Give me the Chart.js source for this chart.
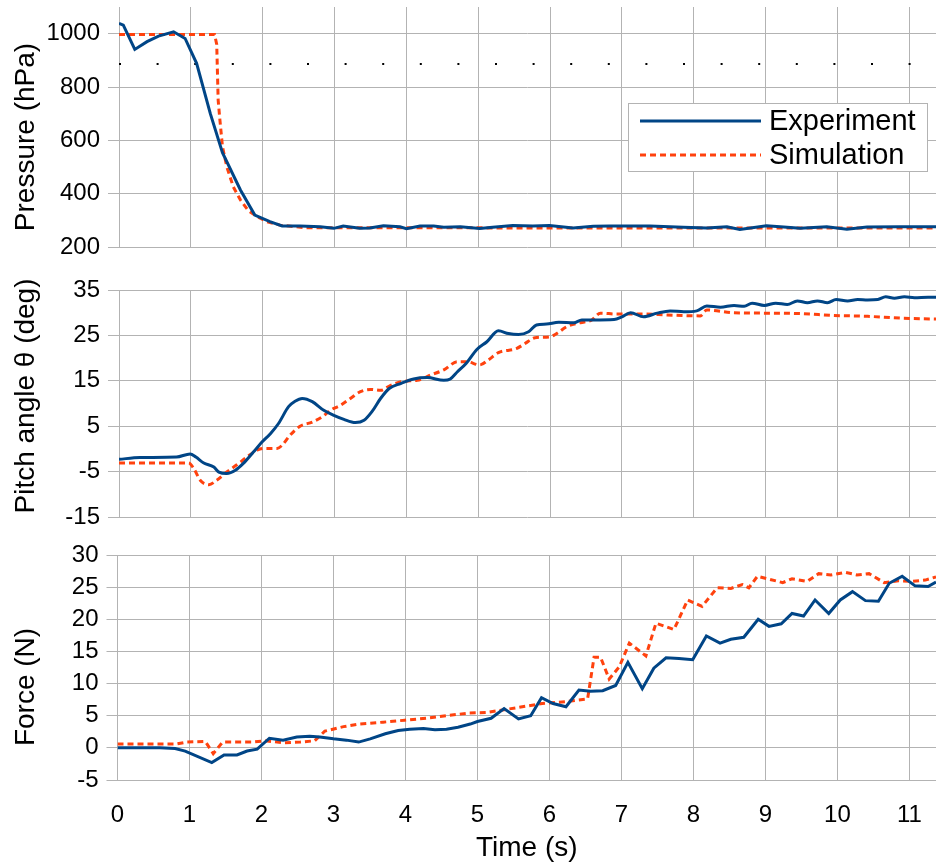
<!DOCTYPE html>
<html>
<head>
<meta charset="utf-8">
<script src="https://cdn.jsdelivr.net/npm/chart.js@4.4.1/dist/chart.umd.min.js"></script>
<style>
  body { margin: 0; background: #fff; }
  #wrap { position: relative; width: 936px; height: 866px; }
  canvas { position: absolute; left: 0; }
</style>
</head>
<body>
<div id="wrap">
  <canvas id="cPressure" width="936" height="262" style="top:0px"></canvas>
  <canvas id="cPitch" width="936" height="278" style="top:262px"></canvas>
  <canvas id="cForce" width="936" height="326" style="top:540px"></canvas>
</div>
<script>
// pressure (hPa)
const pressExpT = [0, 0.06, 0.22, 0.39, 0.55, 0.76, 0.92, 1.08, 1.27, 1.44, 1.69, 1.89, 2.10, 2.27, 2.52, 2.80, 2.99, 3.12, 3.35, 3.49, 3.68, 3.91, 4.00, 4.19, 4.38, 4.52, 4.75, 5.02, 5.20, 5.48, 5.76, 5.99, 6.32, 6.60, 6.83, 7.39, 7.85, 8.18, 8.46, 8.64, 9.01, 9.25, 9.48, 9.85, 10.13, 10.41, 10.87, 11.38];
const pressExpV = [1039, 1032, 941, 970, 991, 1007, 982, 889, 701, 554, 414, 320, 295, 279, 279, 276, 270, 279, 270, 271, 280, 276, 269, 279, 279, 274, 276, 269, 274, 281, 279, 281, 271, 278, 279, 279, 274, 271, 276, 266, 280, 275, 270, 276, 267, 275, 276, 276];
const pressSimT = [0, 1.33, 1.36, 1.38, 1.40, 1.44, 1.50, 1.59, 1.69, 1.80, 1.92, 2.06, 2.24, 2.60, 11.38];
const pressSimV = [997, 997, 960, 751, 689, 576, 501, 426, 376, 336, 314, 295, 282, 272, 271];
const pressRefT = [0, 11.04];
const pressRefV = [886, 886];

// pitch angle (deg)
const pitchExpT = [0, 0.29, 0.8, 0.99, 1.07, 1.18, 1.32, 1.39, 1.50, 1.62, 1.73, 1.87, 1.99, 2.11, 2.22, 2.36, 2.45, 2.55, 2.69, 2.85, 2.99, 3.13, 3.29, 3.41, 3.52, 3.64, 3.76, 3.92, 4.10, 4.29, 4.52, 4.61, 4.71, 4.83, 4.98, 5.12, 5.28, 5.42, 5.56, 5.70, 5.81, 5.95, 6.12, 6.33, 6.44, 6.6, 6.89, 7.0, 7.12, 7.30, 7.49, 7.67, 7.86, 8.04, 8.18, 8.37, 8.56, 8.70, 8.81, 8.98, 9.14, 9.30, 9.44, 9.58, 9.72, 9.86, 9.98, 10.14, 10.28, 10.42, 10.56, 10.67, 10.79, 10.93, 11.07, 11.26, 11.38];
const pitchExpV = [-2.3, -1.9, -1.8, -1.1, -1.8, -3.1, -4.0, -5.1, -5.4, -4.7, -3.2, -0.7, 1.5, 3.4, 5.6, 9.3, 10.5, 11.1, 10.4, 8.5, 7.4, 6.5, 5.8, 6.3, 8.2, 11.1, 13.3, 14.4, 15.4, 15.7, 15.1, 15.4, 17.0, 18.8, 21.9, 23.6, 26.0, 25.4, 25.2, 25.8, 27.3, 27.5, 27.9, 27.8, 28.4, 28.4, 28.5, 29.1, 30.0, 29.1, 29.9, 30.4, 30.2, 30.4, 31.5, 31.2, 31.6, 31.4, 32.1, 31.6, 32.1, 31.8, 32.6, 32.2, 32.6, 32.2, 32.9, 32.6, 32.9, 32.8, 32.9, 33.5, 33.2, 33.5, 33.3, 33.4, 33.4];
const pitchSimT = [0, 0.97, 1.04, 1.13, 1.25, 1.36, 1.50, 1.64, 1.78, 1.92, 2.01, 2.20, 2.27, 2.38, 2.52, 2.69, 2.83, 2.94, 3.08, 3.22, 3.36, 3.50, 3.64, 3.78, 3.97, 4.15, 4.34, 4.52, 4.71, 4.84, 5.02, 5.14, 5.28, 5.53, 5.65, 5.79, 6.0, 6.09, 6.23, 6.42, 6.58, 6.70, 6.93, 7.30, 7.63, 8.09, 8.18, 8.56, 9.02, 9.49, 9.95, 10.42, 10.88, 11.38];
const pitchSimV = [-3.1, -3.1, -4.3, -6.9, -7.9, -6.9, -5.1, -3.5, -1.8, -0.3, 0.1, 0.1, 0.8, 3.0, 5.0, 5.9, 7.1, 8.5, 9.6, 11.1, 12.6, 13.1, 12.9, 14.0, 14.9, 15.1, 16.3, 17.4, 19.2, 19.2, 18.5, 19.6, 21.2, 22.1, 23.2, 24.5, 24.7, 25.4, 26.9, 27.8, 28.4, 29.9, 29.7, 29.7, 29.5, 29.3, 30.6, 30.0, 29.9, 29.8, 29.4, 29.2, 28.8, 28.6];

// force (N)
const forceExpT = [0, 0.59, 0.80, 0.94, 1.31, 1.48, 1.66, 1.80, 1.94, 2.11, 2.30, 2.49, 2.67, 2.81, 3.0, 3.18, 3.35, 3.51, 3.72, 3.90, 4.06, 4.25, 4.41, 4.57, 4.73, 4.90, 5.0, 5.19, 5.37, 5.57, 5.74, 5.89, 6.05, 6.23, 6.41, 6.57, 6.74, 6.92, 7.09, 7.29, 7.45, 7.62, 7.80, 7.99, 8.18, 8.37, 8.52, 8.70, 8.90, 9.05, 9.22, 9.37, 9.53, 9.69, 9.88, 10.04, 10.21, 10.39, 10.57, 10.72, 10.90, 11.08, 11.26, 11.37];
const forceExpV = [0, 0, -0.1, -0.5, -2.3, -1.1, -1.1, -0.5, -0.2, 1.5, 1.2, 1.7, 1.8, 1.7, 1.4, 1.2, 0.9, 1.4, 2.2, 2.7, 2.9, 3.0, 2.8, 2.9, 3.2, 3.7, 4.1, 4.6, 6.1, 4.5, 5.0, 7.8, 6.9, 6.4, 9.0, 8.8, 8.9, 9.7, 13.3, 9.2, 12.4, 14.0, 13.9, 13.7, 17.4, 16.3, 16.9, 17.2, 20.0, 18.9, 19.3, 20.9, 20.5, 23.0, 20.9, 23.0, 24.3, 22.9, 22.8, 25.6, 26.7, 25.2, 25.1, 25.8];
const forceSimT = [0, 0.82, 0.96, 1.22, 1.33, 1.46, 1.61, 1.88, 2.05, 2.30, 2.54, 2.74, 2.88, 3.14, 3.35, 3.69, 3.99, 4.29, 4.57, 4.87, 5.12, 5.35, 5.58, 5.90, 6.23, 6.53, 6.62, 6.71, 6.83, 6.97, 7.11, 7.34, 7.48, 7.73, 7.92, 8.12, 8.33, 8.52, 8.68, 8.77, 8.89, 9.03, 9.24, 9.37, 9.58, 9.74, 9.91, 10.11, 10.27, 10.44, 10.65, 10.85, 11.04, 11.22, 11.37];
const forceSimV = [0.6, 0.6, 0.9, 1.0, -0.9, 0.9, 0.9, 0.9, 1.1, 0.8, 0.9, 1.1, 2.6, 3.3, 3.7, 4.0, 4.3, 4.6, 5.0, 5.4, 5.5, 5.9, 6.3, 6.9, 7.2, 7.6, 14.1, 14.1, 10.7, 12.6, 16.3, 14.3, 19.4, 18.4, 23.0, 22.0, 24.9, 24.8, 25.4, 24.9, 26.7, 26.3, 25.7, 26.3, 25.9, 27.1, 26.9, 27.3, 26.9, 27.1, 25.7, 26.0, 25.9, 26.1, 26.6];

const seriesNames = ['Experiment', 'Simulation'];
const xMax = 11.37;

const BLUE = '#004586';
const ORANGE = '#ff420e';
const GRID = '#b3b3b3';

Chart.defaults.font.family = '"Liberation Sans", Arial, sans-serif';
Chart.defaults.color = '#000';

function pts(t, v) {
  return t.map((x, i) => ({ x: x, y: v[i] }));
}

function expSet(t, v, smooth) {
  return { label: seriesNames[0], data: pts(t, v), borderColor: BLUE, borderWidth: 3,
    pointRadius: 0, fill: false, cubicInterpolationMode: smooth ? 'monotone' : 'default' };
}
function simSet(t, v, smooth) {
  return { label: seriesNames[1], data: pts(t, v), borderColor: ORANGE, borderWidth: 3,
    borderDash: [6, 4], borderCapStyle: 'butt', pointRadius: 0, fill: false,
    cubicInterpolationMode: smooth ? 'monotone' : 'default' };
}

// rotated y title, drawn at a set centre
const sideTitle = {
  id: 'sideTitle',
  afterDraw(chart, args, o) {
    const ctx = chart.ctx;
    ctx.save();
    ctx.translate(o.x, o.y);
    ctx.rotate(-Math.PI / 2);
    ctx.font = '28px "Liberation Sans", Arial, sans-serif';
    ctx.fillStyle = '#000';
    ctx.textAlign = 'center';
    ctx.textBaseline = 'middle';
    ctx.fillText(o.text, 0, 0);
    ctx.restore();
  }
};

// boxed legend inside the pressure panel
const boxLegend = {
  id: 'boxLegend',
  afterDraw(chart, args, o) {
    if (!o.show) return;
    const ctx = chart.ctx;
    const sets = chart.data.datasets.filter(d => seriesNames.includes(d.label));
    ctx.save();
    ctx.fillStyle = '#fff';
    ctx.fillRect(o.left, o.top, o.width, o.height);
    ctx.strokeStyle = GRID;
    ctx.lineWidth = 1;
    ctx.strokeRect(o.left + 0.5, o.top + 0.5, o.width - 1, o.height - 1);
    ctx.font = '29px "Liberation Sans", Arial, sans-serif';
    ctx.textBaseline = 'middle';
    sets.forEach((d, i) => {
      const y = o.top + o.firstRow + i * o.rowGap;
      ctx.strokeStyle = d.borderColor;
      ctx.lineWidth = d.borderWidth;
      ctx.lineCap = 'butt';
      ctx.setLineDash(d.borderDash || []);
      ctx.beginPath();
      ctx.moveTo(o.left + 12, y);
      ctx.lineTo(o.left + 133, y);
      ctx.stroke();
      ctx.setLineDash([]);
      ctx.fillStyle = '#000';
      ctx.fillText(d.label, o.left + 141, y + 1);
    });
    ctx.restore();
  }
};

function makeChart(id, cfg) {
  const yTicks = {
    stepSize: cfg.step,
    padding: 8,
    font: { size: 24 },
    callback: cfg.label || (v => v)
  };
  return new Chart(document.getElementById(id), {
    type: 'line',
    data: { datasets: cfg.datasets },
    plugins: [sideTitle, boxLegend],
    options: {
      responsive: false,
      animation: false,
      layout: { padding: cfg.padding },
      plugins: {
        legend: { display: false },
        tooltip: { enabled: false },
        sideTitle: { text: cfg.title, x: 26, y: cfg.titleY },
        boxLegend: cfg.legend || { show: false }
      },
      scales: {
        x: {
          type: 'linear',
          min: 0,
          max: xMax,
          border: { display: false },
          grid: { color: GRID, lineWidth: 1, drawTicks: false },
          ticks: {
            display: !!cfg.xLabels,
            stepSize: 1,
            includeBounds: false,
            padding: 21,
            font: { size: 24 }
          },
          title: {
            display: !!cfg.xLabels,
            text: 'Time (s)',
            font: { size: 28 },
            padding: { top: 0, bottom: 1 }
          },
          afterFit(s) {
            s.paddingLeft = 0;
            s.paddingRight = 0;
            s.height = cfg.xHeight;
          }
        },
        y: {
          min: cfg.yMin,
          max: cfg.yMax,
          border: { display: false },
          grid: { color: GRID, lineWidth: 1, drawTicks: true, tickLength: 11 },
          ticks: yTicks,
          afterFit(s) {
            s.width = cfg.left;
            s.paddingTop = 0;
            s.paddingBottom = 0;
          }
        }
      }
    }
  });
}

makeChart('cPressure', {
  datasets: [
    expSet(pressExpT, pressExpV, false),
    simSet(pressSimT, pressSimV, false),
    { label: 'ref', data: pts(pressRefT, pressRefV), borderColor: '#000', borderWidth: 2,
      borderDash: [2, 35.6], borderCapStyle: 'butt', pointRadius: 0, fill: false }
  ],
  yMin: 200, yMax: 1100, step: 100,
  label: v => (v % 200 === 0 && v <= 1000) ? v : '',
  left: 119, padding: { top: 7, bottom: 15, left: 0, right: 0 },
  xHeight: 0,
  title: 'Pressure (hPa)', titleY: 137,
  legend: { show: true, left: 628, top: 103, width: 300, height: 69, firstRow: 18, rowGap: 34 }
});

makeChart('cPitch', {
  datasets: [
    expSet(pitchExpT, pitchExpV, true),
    simSet(pitchSimT, pitchSimV, true)
  ],
  yMin: -15, yMax: 35, step: 10,
  left: 119, padding: { top: 28, bottom: 23, left: 0, right: 0 },
  xHeight: 0,
  title: 'Pitch angle \u03b8 (deg)', titleY: 134
});

makeChart('cForce', {
  datasets: [
    expSet(forceExpT, forceExpV, false),
    simSet(forceSimT, forceSimV, false)
  ],
  yMin: -5, yMax: 30, step: 5,
  left: 117.5, padding: { top: 15, bottom: 0, left: 0, right: 0 },
  xHeight: 86, xLabels: true,
  title: 'Force (N)', titleY: 147
});
</script>
</body>
</html>
